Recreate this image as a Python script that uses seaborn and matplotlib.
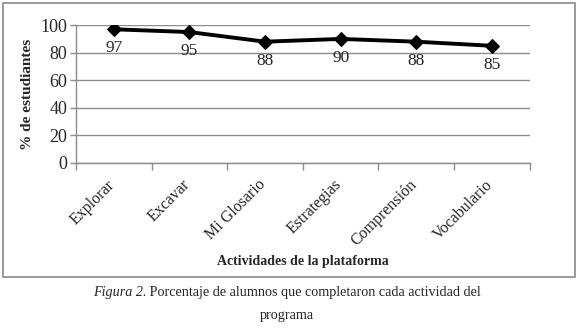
import pandas as pd
import matplotlib.pyplot as plt
import seaborn as sns
from matplotlib.patches import Rectangle
from matplotlib.ticker import FixedLocator, NullFormatter
from matplotlib.transforms import ScaledTranslation

# Data
actividades = ['Explorar', 'Excavar', 'Mi Glosario', 'Estrategias', 'Comprensión', 'Vocabulario']
porcentajes = [97, 95, 88, 90, 88, 85]
y_ticks = [0, 20, 40, 60, 80, 100]

df = pd.DataFrame({'Actividad': actividades, 'Porcentaje': porcentajes})

sns.set_style('white')
plt.rcParams['font.family'] = ['Liberation Serif', 'DejaVu Serif']

fig = plt.figure(figsize=(5.79, 3.31), dpi=100)
ax = fig.add_axes([0.131, 0.508, 0.784, 0.416])

# Outer chart box
fig.patches.append(Rectangle((0.006, 0.163), 0.987, 0.828, transform=fig.transFigure,
                             fill=False, edgecolor='#888888', linewidth=1.2))

sns.lineplot(data=df, x='Actividad', y='Porcentaje', ax=ax, color='black',
             linewidth=2.8, marker='D', markersize=7.5, markeredgecolor='black')

# Value labels under each point
for i, v in enumerate(porcentajes):
    ax.annotate(str(v), (i, v), xytext=(0, -8), textcoords='offset points',
                ha='center', va='top', fontsize=12.5)

ax.set_ylim(0, 100)
ax.set_xlim(-0.5, len(actividades) - 0.5)
ax.set_yticks(y_ticks)
ax.yaxis.grid(True, color='#8c8c8c', linewidth=1)
ax.set_axisbelow(True)

# Category labels at centres, tick marks at the boundaries
ax.set_xticks(range(len(actividades)))
ax.set_xticklabels(actividades, rotation=45, ha='right', rotation_mode='anchor', fontsize=11.5)
ax.tick_params(axis='x', which='major', length=0, pad=10)
shift = ScaledTranslation(-7 / 100, 0, fig.dpi_scale_trans)
for lbl in ax.get_xticklabels():
    lbl.set_transform(lbl.get_transform() + shift)
ax.xaxis.set_minor_locator(FixedLocator([i - 0.5 for i in range(len(actividades) + 1)]))
ax.xaxis.set_minor_formatter(NullFormatter())
ax.tick_params(axis='x', which='minor', length=5, color='#8c8c8c', width=1, bottom=True)
ax.tick_params(axis='y', length=4, color='#8c8c8c', width=1, left=True, labelsize=13, pad=2)

for side in ['top', 'right']:
    ax.spines[side].set_visible(False)
for side in ['left', 'bottom']:
    ax.spines[side].set_color('#8c8c8c')
    ax.spines[side].set_linewidth(1)

ax.set_ylabel('% de estudiantes', fontsize=11, fontweight='bold', labelpad=5)
ax.set_xlabel('Actividades de la plataforma', fontsize=10, fontweight='bold', labelpad=4)

# Caption: italic lead-in followed by regular text
fig.canvas.draw()
renderer = fig.canvas.get_renderer()
t1 = fig.text(0, 0.115, 'Figura 2.', fontsize=10.2, style='italic', va='center')
t2 = fig.text(0, 0.115, ' Porcentaje de alumnos que completaron cada actividad del',
              fontsize=10.2, va='center')
w1 = t1.get_window_extent(renderer).width
w2 = t2.get_window_extent(renderer).width
W = fig.get_figwidth() * fig.dpi
x0 = (287 - (w1 + w2) / 2) / W
t1.set_x(x0)
t2.set_x(x0 + w1 / W)
fig.text(287 / W, 0.048, 'programa', fontsize=10.2, ha='center', va='center')

fig.savefig('out.png', dpi=100)
